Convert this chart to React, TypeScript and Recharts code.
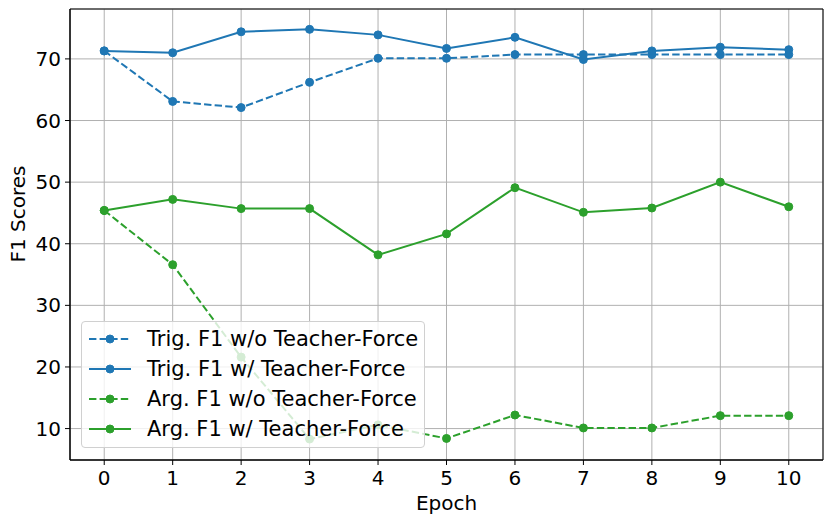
import { LineChart, Line, XAxis, YAxis, CartesianGrid, ReferenceArea } from 'recharts'

const epochs = [0, 1, 2, 3, 4, 5, 6, 7, 8, 9, 10]
const trigWithout = [71.3, 63.1, 62.1, 66.2, 70.1, 70.1, 70.7, 70.7, 70.7, 70.7, 70.7]
const trigWith = [71.3, 71.0, 74.4, 74.8, 73.9, 71.7, 73.5, 69.9, 71.3, 71.9, 71.5]
const argWithout = [45.4, 36.6, 21.6, 8.3, 10.6, 8.4, 12.2, 10.1, 10.1, 12.1, 12.1]
const argWith = [45.4, 47.2, 45.7, 45.7, 38.2, 41.6, 49.1, 45.1, 45.8, 50.0, 46.0]
const yTicks = [10, 20, 30, 40, 50, 60, 70]

const BLUE = '#1f77b4'
const GREEN = '#2ca02c'
const DASH = '7.4 3.2'
const FONT = '"DejaVu Sans", sans-serif'
const Y_MIN = 4.9
const Y_MAX = 78.1

const series = [
  { key: 'trigWithout', label: 'Trig. F1 w/o Teacher-Force', color: BLUE, dashed: true },
  { key: 'trigWith', label: 'Trig. F1 w/ Teacher-Force', color: BLUE, dashed: false },
  { key: 'argWithout', label: 'Arg. F1 w/o Teacher-Force', color: GREEN, dashed: true },
  { key: 'argWith', label: 'Arg. F1 w/ Teacher-Force', color: GREEN, dashed: false },
]

const data = epochs.map((epoch, i) => ({
  epoch,
  trigWithout: trigWithout[i],
  trigWith: trigWith[i],
  argWithout: argWithout[i],
  argWith: argWith[i],
}))

const tickStyle = { fontSize: 20, fill: '#000', fontFamily: FONT }

// y label sits a bit above the plot's middle in the reference
const YLabel = () => (
  <text
    x={18}
    y={214}
    transform="rotate(-90 18 214)"
    textAnchor="middle"
    dominantBaseline="central"
    fontSize={20}
    fontFamily={FONT}
    fill="#000"
  >
    F1 Scores
  </text>
)

function LegendBox() {
  return (
    <div
      style={{
        position: 'absolute',
        left: 81,
        top: 321,
        width: 344,
        height: 127,
        boxSizing: 'border-box',
        border: '1px solid #d0d0d0',
        borderRadius: 4,
        background: 'rgba(255,255,255,0.8)',
        fontFamily: FONT,
        fontSize: 21,
        color: '#000',
      }}
    >
      {series.map((s, i) => (
        <div
          key={s.key}
          style={{ position: 'absolute', left: 6, top: 2 + i * 30, height: 30, display: 'flex', alignItems: 'center' }}
        >
          <svg width={44} height={12} style={{ display: 'block' }}>
            <line
              x1={1}
              y1={6}
              x2={43}
              y2={6}
              stroke={s.color}
              strokeWidth={2}
              strokeDasharray={s.dashed ? DASH : undefined}
            />
            <circle cx={22} cy={6} r={4} fill={s.color} stroke={s.color} />
          </svg>
          <span style={{ marginLeft: 15, whiteSpace: 'nowrap' }}>{s.label}</span>
        </div>
      ))}
    </div>
  )
}

export default function App() {
  return (
    <div style={{ position: 'absolute', left: 0, top: 0, width: 831, height: 524, background: '#fff' }}>
      <LineChart width={831} height={524} data={data} margin={{ top: 9, right: 8, left: 0, bottom: 0 }}>
        <CartesianGrid stroke="#b0b0b0" strokeWidth={1} />
        <XAxis
          dataKey="epoch"
          type="number"
          domain={[-0.5, 10.5]}
          ticks={epochs}
          allowDataOverflow
          height={64}
          tickSize={5}
          tickMargin={6}
          tick={tickStyle}
          tickLine={{ stroke: '#000' }}
          axisLine={{ stroke: '#000' }}
          label={{ value: 'Epoch', position: 'insideBottom', offset: 14, style: { fontSize: 20, fill: '#000', fontFamily: FONT } }}
        />
        <YAxis
          type="number"
          domain={[Y_MIN, Y_MAX]}
          ticks={yTicks}
          allowDataOverflow
          width={70}
          tickSize={5}
          tickMargin={4}
          tick={tickStyle}
          tickLine={{ stroke: '#000' }}
          axisLine={{ stroke: '#000' }}
          label={{ content: YLabel }}
        />
        {series.map(s => (
          <Line
            key={s.key}
            dataKey={s.key}
            stroke={s.color}
            strokeWidth={2}
            strokeDasharray={s.dashed ? DASH : undefined}
            dot={{ r: 4, fill: s.color, stroke: s.color, strokeWidth: 1, strokeDasharray: '' }}
            activeDot={false}
            type="linear"
            isAnimationActive={false}
          />
        ))}
        <ReferenceArea x1={-0.5} x2={10.5} y1={Y_MIN} y2={Y_MAX} fill="none" stroke="#000" strokeWidth={1} />
      </LineChart>
      <LegendBox />
    </div>
  )
}
